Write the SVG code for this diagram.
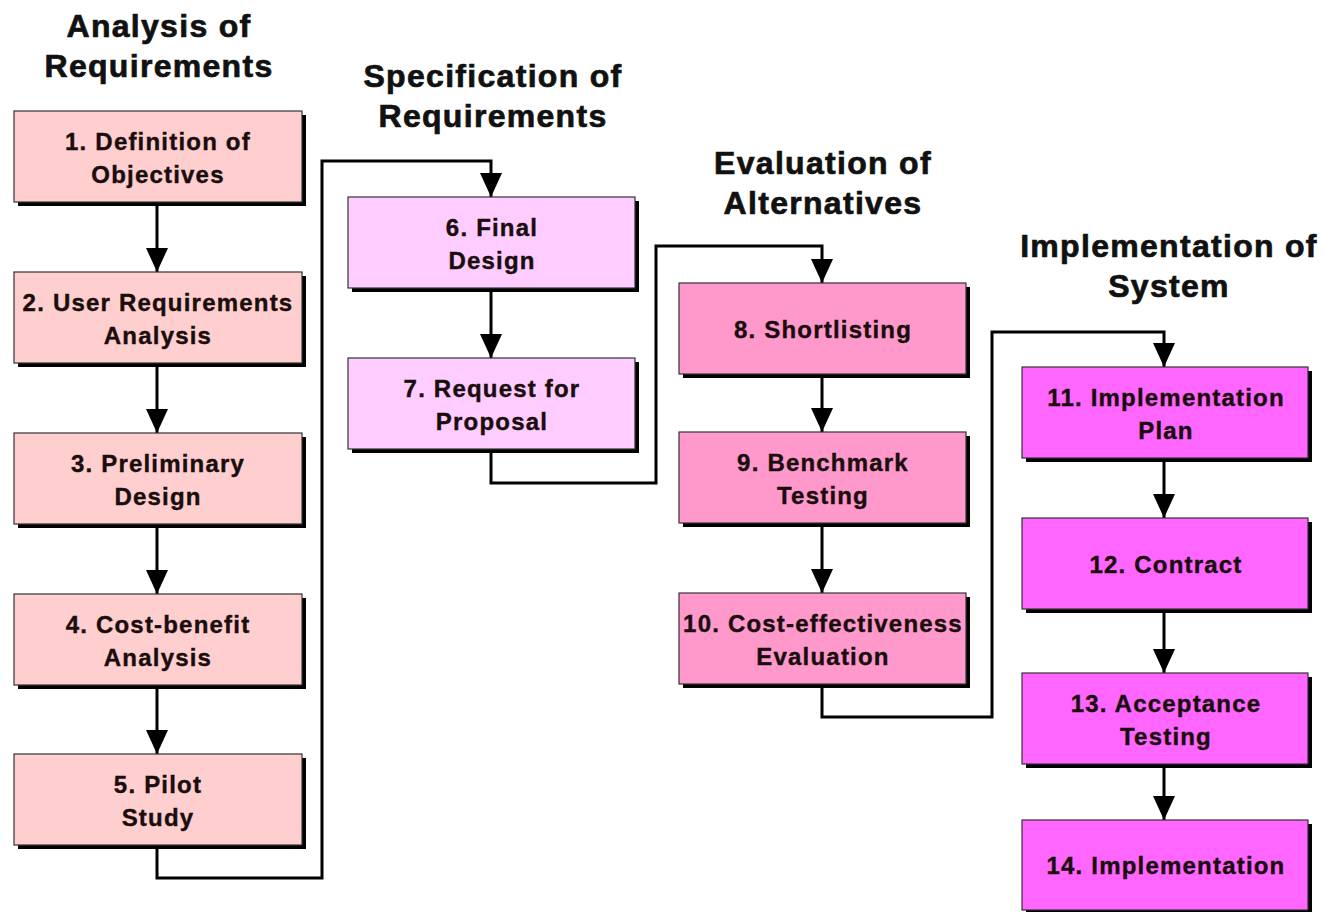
<svg xmlns="http://www.w3.org/2000/svg" width="1324" height="914" viewBox="0 0 1324 914">
<defs>
<style>
.bg{fill:#ffffff}
.hd{font-family:"Liberation Sans",Arial,sans-serif;font-weight:bold;font-size:32px;letter-spacing:1.3px;fill:#111;stroke:#111;stroke-width:0.7;text-anchor:middle}
.tx{font-family:"Liberation Sans",Arial,sans-serif;font-weight:bold;font-size:24px;letter-spacing:1.2px;fill:#1a0d0d;stroke:#1a0d0d;stroke-width:0.4;text-anchor:middle}
.sh{fill:#000}
.b{stroke:#333;stroke-width:1.2}
.c1{fill:#ffcfcf}
.c2{fill:#ffccff}
.c3{fill:#ff99cc}
.c4{fill:#ff66ff}
.cn{fill:none;stroke:#000;stroke-width:3;stroke-linejoin:miter}
</style>
<marker id="ah" markerUnits="userSpaceOnUse" markerWidth="24" markerHeight="22" refX="24" refY="11" orient="auto">
<path d="M0,0 L24,11 L0,22 z" fill="#000"/>
</marker>
</defs>
<rect class="bg" x="0" y="0" width="1324" height="914"/>

<g id="headings">
<text class="hd" x="159" y="37">Analysis of</text>
<text class="hd" x="159" y="77">Requirements</text>
<text class="hd" x="493" y="87">Specification of</text>
<text class="hd" x="493" y="127">Requirements</text>
<text class="hd" x="823" y="174">Evaluation of</text>
<text class="hd" x="823" y="214">Alternatives</text>
<text class="hd" x="1169" y="257">Implementation of</text>
<text class="hd" x="1169" y="297">System</text>
</g>

<g id="connectors">
<path class="cn" marker-end="url(#ah)" d="M157,202 V272"/>
<path class="cn" marker-end="url(#ah)" d="M157,363 V433"/>
<path class="cn" marker-end="url(#ah)" d="M157,524 V594"/>
<path class="cn" marker-end="url(#ah)" d="M157,685 V754"/>
<path class="cn" marker-end="url(#ah)" d="M157,845 V878 H322 V161 H491 V197"/>
<path class="cn" marker-end="url(#ah)" d="M491,288 V358"/>
<path class="cn" marker-end="url(#ah)" d="M491,449 V483 H656 V246 H822 V283"/>
<path class="cn" marker-end="url(#ah)" d="M822,374 V432"/>
<path class="cn" marker-end="url(#ah)" d="M822,523 V593"/>
<path class="cn" marker-end="url(#ah)" d="M822,684 V717 H992 V332 H1164 V367"/>
<path class="cn" marker-end="url(#ah)" d="M1164,458 V518"/>
<path class="cn" marker-end="url(#ah)" d="M1164,609 V673"/>
<path class="cn" marker-end="url(#ah)" d="M1164,764 V820"/>
</g>

<g id="n1"><rect class="sh" x="18" y="115" width="288" height="91"/><rect class="b c1" x="14" y="111" width="288" height="91"/>
<text class="tx" x="158" y="150">1. Definition of</text><text class="tx" x="158" y="183">Objectives</text></g>
<g id="n2"><rect class="sh" x="18" y="276" width="288" height="91"/><rect class="b c1" x="14" y="272" width="288" height="91"/>
<text class="tx" x="158" y="311">2. User Requirements</text><text class="tx" x="158" y="344">Analysis</text></g>
<g id="n3"><rect class="sh" x="18" y="437" width="288" height="91"/><rect class="b c1" x="14" y="433" width="288" height="91"/>
<text class="tx" x="158" y="472">3. Preliminary</text><text class="tx" x="158" y="505">Design</text></g>
<g id="n4"><rect class="sh" x="18" y="598" width="288" height="91"/><rect class="b c1" x="14" y="594" width="288" height="91"/>
<text class="tx" x="158" y="633">4. Cost-benefit</text><text class="tx" x="158" y="666">Analysis</text></g>
<g id="n5"><rect class="sh" x="18" y="758" width="288" height="91"/><rect class="b c1" x="14" y="754" width="288" height="91"/>
<text class="tx" x="158" y="793">5. Pilot</text><text class="tx" x="158" y="826">Study</text></g>

<g id="n6"><rect class="sh" x="352" y="201" width="287" height="91"/><rect class="b c2" x="348" y="197" width="287" height="91"/>
<text class="tx" x="492" y="236">6. Final</text><text class="tx" x="492" y="269">Design</text></g>
<g id="n7"><rect class="sh" x="352" y="362" width="287" height="91"/><rect class="b c2" x="348" y="358" width="287" height="91"/>
<text class="tx" x="492" y="397">7. Request for</text><text class="tx" x="492" y="430">Proposal</text></g>

<g id="n8"><rect class="sh" x="683" y="287" width="287" height="91"/><rect class="b c3" x="679" y="283" width="287" height="91"/>
<text class="tx" x="823" y="338">8. Shortlisting</text></g>
<g id="n9"><rect class="sh" x="683" y="436" width="287" height="91"/><rect class="b c3" x="679" y="432" width="287" height="91"/>
<text class="tx" x="823" y="471">9. Benchmark</text><text class="tx" x="823" y="504">Testing</text></g>
<g id="n10"><rect class="sh" x="683" y="597" width="287" height="91"/><rect class="b c3" x="679" y="593" width="287" height="91"/>
<text class="tx" x="823" y="632">10. Cost-effectiveness</text><text class="tx" x="823" y="665">Evaluation</text></g>

<g id="n11"><rect class="sh" x="1026" y="371" width="286" height="91"/><rect class="b c4" x="1022" y="367" width="286" height="91"/>
<text class="tx" x="1166" y="406">11. Implementation</text><text class="tx" x="1166" y="439">Plan</text></g>
<g id="n12"><rect class="sh" x="1026" y="522" width="286" height="91"/><rect class="b c4" x="1022" y="518" width="286" height="91"/>
<text class="tx" x="1166" y="573">12. Contract</text></g>
<g id="n13"><rect class="sh" x="1026" y="677" width="286" height="91"/><rect class="b c4" x="1022" y="673" width="286" height="91"/>
<text class="tx" x="1166" y="712">13. Acceptance</text><text class="tx" x="1166" y="745">Testing</text></g>
<g id="n14"><rect class="sh" x="1026" y="824" width="286" height="88"/><rect class="b c4" x="1022" y="820" width="286" height="90"/>
<text class="tx" x="1166" y="874">14. Implementation</text></g>
</svg>
